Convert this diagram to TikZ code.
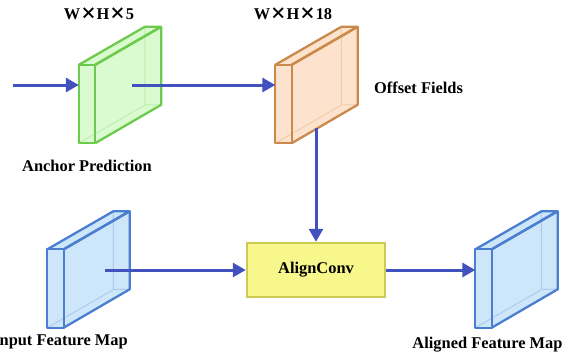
\documentclass[tikz,border=0pt]{standalone}
\usepackage{fontspec}
\setmainfont{Liberation Serif}
\newfontfamily\cjk{Noto Sans CJK SC}
\usetikzlibrary{arrows.meta}
\definecolor{arrowblue}{HTML}{4152BE}
\definecolor{gfill}{HTML}{DAFBCF}\definecolor{gdraw}{HTML}{6CCB4C}
\definecolor{ofill}{HTML}{FDE3CD}\definecolor{odraw}{HTML}{C98A4B}
\definecolor{bfill}{HTML}{CDE6FA}\definecolor{bdraw}{HTML}{4A7ED0}
\definecolor{yfill}{HTML}{F7F78C}\definecolor{ydraw}{HTML}{CCCC55}
\newcommand\X{{\cjk\bfseries ×}}
\newcommand\mycuboid[3]{%
  \fill[#2] (#1.north west) -- ++(66,-38) -- ++(16,0) -- ++(0,78) -- ++(-66,38) -- ++(-16,0) -- cycle;
  \draw[#3, opacity=0.25, line width=1pt] (#1.north west) ++(66,-38) -- ++(0,78) -- ++(16,0)
    (#1.south west) -- ++(66,-38);
  \draw[#3, line width=2.3pt, line join=round] (#1.north west) rectangle (#1.south east);
  \draw[#3, line width=2.3pt, line join=round] (#1.north west) -- ++(66,-38) -- ++(16,0) -- (#1.north east);
  \draw[#3, line width=2.3pt, line join=round] (#1.north east) -- ++(66,-38) -- ++(0,78) -- (#1.south east);
}
\begin{document}
\begin{tikzpicture}[x=1pt,y=-1pt,
  front/.style={inner sep=0pt, minimum width=16pt, minimum height=78pt},
  lbl/.style={font=\bfseries\fontsize{16.4}{18}\selectfont, inner sep=0pt},
  arr/.style={draw=arrowblue, line width=3pt, -{Triangle[length=13pt,width=14pt]}},
  convbox/.style={draw=ydraw, fill=yfill, line width=2.5pt, minimum width=138pt, minimum height=54pt, inner sep=0pt, font=\bfseries\fontsize{16.4}{18}\selectfont}]
\useasboundingbox (0,0) rectangle (577,356);
% cuboid front faces
\node[front] (green) at (87,104) {};
\node[front] (orange) at (283.5,104) {};
\node[front] (inmap) at (55.5,288.5) {};
\node[front] (outmap) at (483.5,288.5) {};
\mycuboid{green}{gfill}{gdraw}
\mycuboid{orange}{ofill}{odraw}
\mycuboid{inmap}{bfill}{bdraw}
\mycuboid{outmap}{bfill}{bdraw}
% AlignConv
\node[convbox] (conv) at (316,270) {AlignConv};
% labels
\node[lbl] (t1) at (99,14) {W\X H\X 5};
\node[lbl] (t2) at (293,14) {W\X H\X 18};
\node[lbl] (l1) at (87,166) {Anchor Prediction};
\node[lbl] (l2) at (418.5,88) {Offset Fields};
\node[lbl, anchor=east] (l3) at (128,342) {Input Feature Map};
\node[lbl] (l4) at (487.5,345) {Aligned Feature Map};
% connectors
\coordinate (src) at (13,85);
\coordinate (gout) at (132,85);
\coordinate (oout) at (316,128);
\coordinate (iout) at (105,270);
\draw[arr] (src) -- (src -| green.west);
\draw[arr] (gout) -- (gout -| orange.west);
\draw[arr] (oout) -- (conv.north);
\draw[arr] (iout) -- (conv.west);
\draw[arr] (conv.east) -- (conv.east -| outmap.west);
\end{tikzpicture}
\end{document}
